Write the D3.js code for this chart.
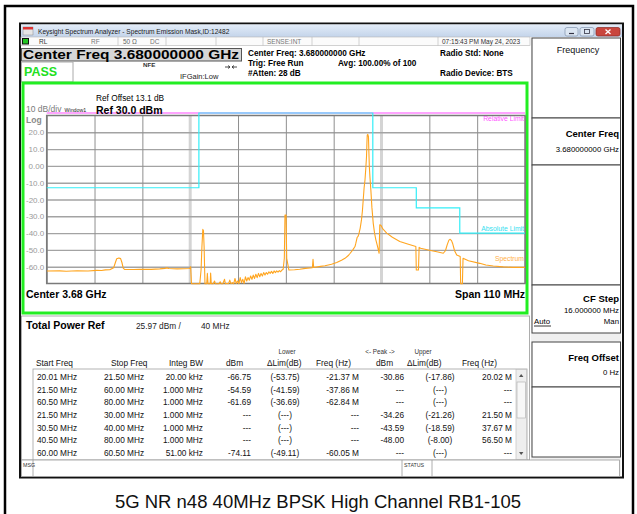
<!DOCTYPE html>
<html>
<head>
<meta charset="utf-8">
<script src="https://cdn.jsdelivr.net/npm/d3@7"></script>
<style>
body { margin: 0; background: #fff; }
svg text { font-family: "Liberation Sans", Arial, sans-serif; }
</style>
</head>
<body>
<div id="chart-area"></div>
<script>

// spectrum trace: offset from centre (MHz) and level (dBm)
var traceFreq = [
	-55.0, -52.0, -50.5, -48.0, -45.5, -43.5, -42.4, -41.5, -40.5, -39.6, -39.2, -38.9, -38.4, -38.0, -37.7, -37.4, -37.1,
	-35.0, -33.6, -31.0, -29.0, -27.8, -27.4, -26.9, -25.0, -23.5, -22.1, -21.9, -21.7, -19.8, -19.5, -19.3, -19.1, -18.95,
	-18.8, -18.6, -18.2, -18.05, -17.9, -17.4, -17.3, -17.15,
	-17.0, -16.7, -16.4, -16.2, -15.8, -15.4, -15.1, -14.9, -14.5, -14.1, -13.9, -13.5, -13.2, -12.9, -12.6, -12.3, -12.0,
	-11.7, -11.4, -11.1, -10.8, -10.5, -10.2, -9.9, -9.6, -9.3, -9.0, -8.7, -8.4, -8.1, -7.8, -7.5, -7.2, -6.9, -6.6, -6.3,
	-6.0, -5.7, -5.4, -5.1, -4.8, -4.5, -4.2, -3.9, -3.6, -3.3, -3.0, -2.7, -2.4, -2.1, -1.8, -1.5, -1.2, -0.9,
	-0.62, -0.35, -0.2, 0.05, 0.2, 0.45, 0.7, 2.0, 3.2, 4.5, 6.1, 6.25, 6.4, 8.0, 9.0, 10.5, 11.7, 12.8, 13.6, 14.3, 14.8,
	15.4, 15.9, 16.1, 16.4, 16.6, 16.8, 17.1, 17.4, 17.6, 17.8, 18.0, 18.2, 18.4, 18.55, 18.65, 18.72, 18.85, 19.0, 19.1,
	19.2, 19.35, 19.55, 19.8, 20.1, 20.4, 20.7, 21.1, 21.45, 21.6, 21.9, 22.3, 23.2, 24.5, 26.2, 28.0, 29.9, 30.0, 30.5,
	30.65, 31.0, 33.0, 35.0, 36.2, 36.7, 37.1, 37.5, 37.8, 38.1, 38.4, 38.8, 39.3, 40.1, 40.2, 40.6, 40.75, 42.0, 44.6,
	46.0, 47.7, 50.0, 52.3, 55.0
];
var traceLevel = [
	-62.6, -62.5, -62.7, -62.4, -62.6, -62.2, -62.3, -61.9, -61.8, -60.6, -57.5, -55.3, -54.8, -55.2, -57.5, -60.8, -61.6,
	-61.7, -61.5, -61.6, -61.3, -61.0, -60.7, -61.1, -61.3, -61.2, -61.1, -60.0, -70.2, -70.2, -62, -48, -37.8, -38.5,
	-48, -70.2, -70.2, -64, -70.2, -70.2, -63.8, -70.2,
	-70.2, -70.2, -68.5, -70.2, -70.2, -70.2, -69, -70.2, -70.2, -67.5, -70.2, -70, -70.2, -68, -70.2, -69.5, -70.2,
	-67, -70, -68.5, -70.2, -66.5, -69.5, -67.5, -70, -66, -68.5, -66.5, -68, -65.5, -67.5, -65, -67, -64.5, -66.5, -64,
	-66, -64, -65.5, -63.5, -65, -63.5, -64.5, -63, -64, -62.8, -64, -62.5, -63.5, -62.5, -63.2, -62.3, -63, -62,
	-61.5, -55, -29.2, -29.2, -55, -58.5, -62, -61.8, -61.5, -61, -60.6, -55.6, -60.5, -59.8, -59.4, -58.5, -57.5, -56.2, -55, -53.5, -52,
	-50, -48, -46, -42.5, -42, -40.5, -37, -32, -27, -20, -13, -8.4, -1, 5.5, 14, 18.4, 18.8, 17.4, 8,
	-0.5, -7, -14.3, -25, -34.2, -40, -44, -48, -52, -35, -35.5, -37.5, -40, -42.5, -45, -46.5, -48, -62, -62,
	-48.5, -49, -50.2, -51.3, -52, -50.5, -47, -44.2, -43.7, -44.5, -46.5, -50.5, -53, -54, -70.2, -70.2, -55, -56.5, -58,
	-59, -59.6, -60.1, -60.4, -60.4
];

// absolute limit (cyan) and relative limit (magenta)
var limitFreq = [-55, -20, -20, 20, 20, 30, 30, 40, 40, 55];
var limitLevel = [-13, -13, 31.5, 31.5, -13, -13, -25, -25, -40, -40];
var relLimitLevel = 31.5;

var yTicks = [20, 10, 0, -10, -20, -30, -40, -50, -60];
var xDivs = [-55, -44, -33, -22, -11, 0, 11, 22, 33, 44, 55];
var chanEdges = [-22, 22];

// result table columns
var startFreq = ["20.01 MHz", "21.50 MHz", "60.50 MHz", "21.50 MHz", "30.50 MHz", "40.50 MHz", "60.00 MHz"];
var stopFreq = ["21.50 MHz", "60.00 MHz", "80.00 MHz", "30.00 MHz", "40.00 MHz", "80.00 MHz", "60.50 MHz"];
var integBW = ["20.00 kHz", "1.000 MHz", "1.000 MHz", "1.000 MHz", "1.000 MHz", "1.000 MHz", "51.00 kHz"];
var lowerDbm = ["-66.75", "-54.59", "-61.69", "---", "---", "---", "-74.11"];
var lowerDelta = ["(-53.75)", "(-41.59)", "(-36.69)", "(---)", "(---)", "(---)", "(-49.11)"];
var lowerFreq = ["-21.37 M", "-37.86 M", "-62.84 M", "---", "---", "---", "-60.05 M"];
var upperDbm = ["-30.86", "---", "---", "-34.26", "-43.59", "-48.00", "---"];
var upperDelta = ["(-17.86)", "(---)", "(---)", "(-21.26)", "(-18.59)", "(-8.00)", "(---)"];
var upperFreq = ["20.02 M", "---", "---", "21.50 M", "37.67 M", "56.50 M", "---"];

var W = 637, H = 514;

var svg = d3.select("#chart-area").append("svg")
	.attr("width", W)
	.attr("height", H);

var txt = function(x, y, s, size, opts) {
	opts = opts || {};
	return svg.append("text")
		.attr("x", x)
		.attr("y", y)
		.attr("font-size", size)
		.attr("font-weight", opts.bold ? "bold" : null)
		.attr("fill", opts.fill || "#000")
		.attr("text-anchor", opts.anchor || "start")
		.text(s);
};

var box = function(x, y, w, h, fill, stroke, sw) {
	return svg.append("rect")
		.attr("x", x).attr("y", y)
		.attr("width", w).attr("height", h)
		.attr("fill", fill)
		.attr("stroke", stroke || "none")
		.attr("stroke-width", sw || 1);
};

// page frame
svg.append("path")
	.attr("d", "M5,520 V6 H633 V520")
	.attr("fill", "none")
	.attr("stroke", "#000")
	.attr("stroke-width", 2.5);

// analyzer window
box(20, 23.5, 603, 454, "#fff", "#111", 2);

var defs = svg.append("defs");
var grad = defs.append("linearGradient").attr("id", "titlebar")
	.attr("x1", 0).attr("y1", 0).attr("x2", 0).attr("y2", 1);
grad.append("stop").attr("offset", "0%").attr("stop-color", "#e3ecf8");
grad.append("stop").attr("offset", "100%").attr("stop-color", "#c3d4ea");

box(21, 24.5, 601, 12.5, "url(#titlebar)");
box(23, 27, 10, 8, "#e6e6e6", "#888", 0.5);
box(23, 27, 10, 2.5, "#d33");
txt(38, 33.5, "Keysight Spectrum Analyzer - Spectrum Emission Mask,ID:12482", 6.6, {fill: "#1a1a1a"});

// window buttons
box(565, 27.5, 13, 8.5, "#dce6f2", "#8394ad", 0.7).attr("rx", 2);
box(580, 27.5, 14, 8.5, "#dce6f2", "#8394ad", 0.7).attr("rx", 2);
box(596, 27.5, 24, 8.5, "#c9463d", "#8a2a23", 0.7).attr("rx", 2);
svg.append("line").attr("x1", 569).attr("x2", 574).attr("y1", 33.5).attr("y2", 33.5).attr("stroke", "#334").attr("stroke-width", 1.2);
box(584.5, 29.5, 5, 4, "none", "#334", 0.8);
svg.append("path").attr("d", "M605.5,29.5 L610.5,34 M610.5,29.5 L605.5,34")
	.attr("stroke", "#fff").attr("stroke-width", 1.3);

// status strip
box(21, 37, 509, 8.5, "#fbfbfb", "#b5b5b5", 0.6);
[118, 166, 216, 263, 312, 359, 438].forEach(function(d) {
	svg.append("line").attr("x1", d).attr("x2", d).attr("y1", 37).attr("y2", 45.5)
		.attr("stroke", "#b5b5b5").attr("stroke-width", 0.6);
});
box(22, 38, 7, 6.5, "#111");
box(23, 39, 5, 4.5, "#22c322");
txt(39, 44, "RL", 6.5, {fill: "#333"});
txt(91, 44, "RF", 6.5, {fill: "#777"});
txt(123, 44, "50 \u03a9", 6.5, {fill: "#666"});
txt(150, 44, "DC", 6.5, {fill: "#777"});
txt(267, 44, "SENSE:INT", 6.5, {fill: "#777"});
txt(442, 44, "07:15:43 PM May 24, 2023", 6.5, {fill: "#333"});

// centre freq banner
box(21.5, 48.5, 220, 12.5, "#d6d6d6", "#555", 1);
txt(23, 59, "Center Freq 3.680000000 GHz", 13.5, {bold: true})
	.attr("textLength", 216)
	.attr("lengthAdjust", "spacingAndGlyphs");
txt(248, 55.5, "Center Freq: 3.680000000 GHz", 8.2, {bold: true});
txt(248, 66, "Trig: Free Run", 8.2, {bold: true});
txt(248, 76, "#Atten: 28 dB", 8.2, {bold: true});
txt(338, 66, "Avg: 100.00% of 100", 8.2, {bold: true});
txt(440, 55.5, "Radio Std: None", 8.2, {bold: true});
txt(440, 76, "Radio Device: BTS", 8.2, {bold: true});

box(21.5, 62, 51.5, 20, "#fff", "#aaa", 1);
txt(24, 75.5, "PASS", 12.5, {bold: true, fill: "#22e022"});
txt(143, 67, "NFE", 6.2, {bold: true, fill: "#333"});
txt(180, 78.5, "IFGain:Low", 7.5, {fill: "#222"});
svg.append("path").attr("d", "M225,67 H230 M232,67 H237 M228,65.5 L230,67 L228,68.5 M234,65.5 L232,67 L234,68.5")
	.attr("stroke", "#222").attr("stroke-width", 0.8).attr("fill", "none");

// soft key panel
box(531, 37.5, 90, 438, "#f0f0f0");
var keys = [[38, 118], [118, 165], [165, 285], [285, 333], [342, 387], [387, 457]];
keys.forEach(function(k) {
	box(532, k[0], 88.5, k[1] - k[0], "#fff", "#444", 1);
});
txt(578, 53, "Frequency", 9, {anchor: "middle", fill: "#111"});
txt(619, 137, "Center Freq", 9.5, {anchor: "end", bold: true});
txt(619, 152, "3.680000000 GHz", 7.8, {anchor: "end"});
txt(619, 302, "CF Step", 9.5, {anchor: "end", bold: true});
txt(619, 313, "16.000000 MHz", 7.8, {anchor: "end"});
txt(534, 324, "Auto", 7.8, {});
svg.append("line").attr("x1", 534).attr("x2", 551).attr("y1", 326).attr("y2", 326).attr("stroke", "#000").attr("stroke-width", 0.8);
txt(619, 324, "Man", 7.8, {anchor: "end"});
txt(619, 361, "Freq Offset", 9.5, {anchor: "end", bold: true});
txt(619, 375, "0 Hz", 7.8, {anchor: "end"});

// graph window (green frame)
box(23, 83, 504, 230, "#fff", "#22ee22", 3);

var margin = {top: 115.5, left: 46.7, right: 525, bottom: 283.5};
var x = d3.scaleLinear().domain([-55, 55]).range([margin.left, margin.right]);
var y = d3.scaleLinear().domain([-70, 30]).range([margin.bottom, margin.top]);

// channel edge markers
chanEdges.forEach(function(d) {
	svg.append("line")
		.attr("x1", x(d)).attr("x2", x(d))
		.attr("y1", margin.top).attr("y2", margin.bottom)
		.attr("stroke", "#d4d4d4").attr("stroke-width", 3);
});

var yGrid = d3.axisLeft(y)
	.tickValues(d3.range(-60, 30, 10))
	.tickSize(-(margin.right - margin.left))
	.tickFormat("");
svg.append("g")
	.attr("class", "grid")
	.attr("transform", "translate(" + margin.left + ",0)")
	.call(yGrid)
	.call(function(g) {
		g.select(".domain").remove();
		g.selectAll("line").attr("stroke", "#a3a3a3").attr("stroke-width", 1.4);
	});

var xGrid = d3.axisBottom(x)
	.tickValues(xDivs.filter(function(d) { return chanEdges.indexOf(d) < 0; }))
	.tickSize(-(margin.bottom - margin.top))
	.tickFormat("");
svg.append("g")
	.attr("class", "grid")
	.attr("transform", "translate(0," + margin.bottom + ")")
	.call(xGrid)
	.call(function(g) {
		g.select(".domain").remove();
		g.selectAll("line").attr("stroke", "#8f8f8f").attr("stroke-width", 1);
	});

box(margin.left, margin.top, margin.right - margin.left, margin.bottom - margin.top, "none", "#7a7a7a", 1.5);

var yAxis = d3.axisLeft(y)
	.tickValues(yTicks)
	.tickSize(0)
	.tickPadding(2.5)
	.tickFormat(function(d) { return d === 0 ? "0.00" : d.toFixed(1); });
svg.append("g")
	.attr("class", "axis yAxis")
	.attr("transform", "translate(" + margin.left + ",0)")
	.call(yAxis)
	.call(function(g) {
		g.select(".domain").remove();
		g.selectAll("text")
			.attr("font-size", 8)
			.attr("font-family", "Liberation Sans, Arial, sans-serif")
			.attr("fill", "#9a9a9a");
	});

// limit lines
svg.append("line")
	.attr("x1", margin.left).attr("x2", margin.right)
	.attr("y1", y(relLimitLevel)).attr("y2", y(relLimitLevel))
	.attr("stroke", "#ff4dff").attr("stroke-width", 1.2);

var limitPts = limitFreq.map(function(f, i) { return [f, limitLevel[i]]; });
svg.append("path")
	.datum(limitPts)
	.attr("fill", "none")
	.attr("stroke", "#33eef8")
	.attr("stroke-width", 1.2)
	.attr("d", d3.line().x(function(d) { return x(d[0]); }).y(function(d) { return y(d[1]); }));

// spectrum trace
defs.append("clipPath").attr("id", "plotclip")
	.append("rect")
	.attr("x", margin.left).attr("y", margin.top - 3)
	.attr("width", margin.right - margin.left)
	.attr("height", margin.bottom - margin.top + 4);

var tracePts = traceFreq.map(function(f, i) { return [f, traceLevel[i]]; });
svg.append("path")
	.datum(tracePts)
	.attr("clip-path", "url(#plotclip)")
	.attr("fill", "none")
	.attr("stroke", "#ffa51f")
	.attr("stroke-width", 1.1)
	.attr("stroke-linejoin", "round")
	.attr("d", d3.line().x(function(d) { return x(d[0]); }).y(function(d) { return y(d[1]); }));

// trace labels
txt(margin.right - 1, 120.5, "Relative Limit", 6.8, {anchor: "end", fill: "#ff55ff"});
txt(margin.right - 1, 230.5, "Absolute Limit", 6.8, {anchor: "end", fill: "#33e0f0"});
txt(margin.right - 1, 260.5, "Spectrum", 6.8, {anchor: "end", fill: "#ffb04a"});

// graph annotations
txt(96, 101, "Ref Offset 13.1 dB", 8.3, {});
txt(96, 113.5, "Ref 30.0 dBm", 10.5, {bold: true});
txt(26, 112, "10 dB/div", 8.5, {fill: "#7a7a7a"});
txt(64.5, 111.5, "Window1", 5.3, {fill: "#222"});
txt(26, 122.5, "Log", 8.5, {bold: true, fill: "#8a8a8a"});
txt(26, 297.5, "Center  3.68 GHz", 10.5, {bold: true});
txt(margin.right, 297.5, "Span 110 MHz", 10.5, {bold: true, anchor: "end"});

// result panel
box(21.5, 316, 508, 144, "#fff", "#999", 0.8);
txt(26, 329, "Total Power Ref", 10.5, {bold: true});
txt(136, 328.5, "25.97 dBm /", 8.3, {fill: "#222"});
txt(201, 328.5, "40 MHz", 8.3, {fill: "#222"});

txt(287, 354, "Lower", 6.3, {anchor: "middle", fill: "#333"});
txt(380, 354, "<- Peak ->", 6.3, {anchor: "middle", fill: "#333"});
txt(423, 354, "Upper", 6.3, {anchor: "middle", fill: "#333"});

var headerRow = [[36, "Start Freq"], [111, "Stop Freq"], [169, "Integ BW"], [226, "dBm"], [267, "\u0394Lim(dB)"],
	[316, "Freq (Hz)"], [376, "dBm"], [407, "\u0394Lim(dB)"], [462, "Freq (Hz)"]];
headerRow.forEach(function(h) {
	txt(h[0], 365.5, h[1], 8.3, {fill: "#111"});
});

box(33, 369, 494, 91, "#fff", "#a0a0a0", 0.8);

var columns = [
	{vals: startFreq, x: 37, anchor: "start"},
	{vals: stopFreq, x: 104, anchor: "start"},
	{vals: integBW, x: 203, anchor: "end"},
	{vals: lowerDbm, x: 251, anchor: "end"},
	{vals: lowerDelta, x: 285, anchor: "middle"},
	{vals: lowerFreq, x: 359, anchor: "end"},
	{vals: upperDbm, x: 404, anchor: "end"},
	{vals: upperDelta, x: 440, anchor: "middle"},
	{vals: upperFreq, x: 512, anchor: "end"}
];
var rowY = d3.scaleLinear().domain([0, 6]).range([380, 456]);
columns.forEach(function(c) {
	c.vals.forEach(function(v, i) {
		txt(c.x, rowY(i), v, 8.3, {anchor: c.anchor, fill: "#111"});
	});
});

// table scroll bar
box(516, 369.5, 10.5, 90, "#eeeeee", "#bbb", 0.6);
box(517, 382, 8.5, 36, "#f7f7f7", "#aaa", 0.6);
svg.append("path").attr("d", "M519,377 L521.2,374 L523.4,377 Z").attr("fill", "#555");
svg.append("path").attr("d", "M519,452 L521.2,455 L523.4,452 Z").attr("fill", "#555");

// bottom status bar
box(21.5, 460, 598, 16.5, "#fff", "#999", 0.8);
svg.append("line").attr("x1", 33).attr("x2", 33).attr("y1", 460).attr("y2", 476.5).attr("stroke", "#999").attr("stroke-width", 0.8);
svg.append("line").attr("x1", 402).attr("x2", 402).attr("y1", 460).attr("y2", 476.5).attr("stroke", "#999").attr("stroke-width", 0.8);
svg.append("line").attr("x1", 432).attr("x2", 432).attr("y1", 460).attr("y2", 476.5).attr("stroke", "#999").attr("stroke-width", 0.8);
txt(23, 467, "MSG", 5.3, {fill: "#333"});
txt(404, 467, "STATUS", 5.3, {fill: "#333"});

// caption
txt(318, 507.5, "5G NR n48 40MHz BPSK High Channel RB1-105", 18.5, {anchor: "middle", fill: "#111"});

</script>
</body>
</html>
